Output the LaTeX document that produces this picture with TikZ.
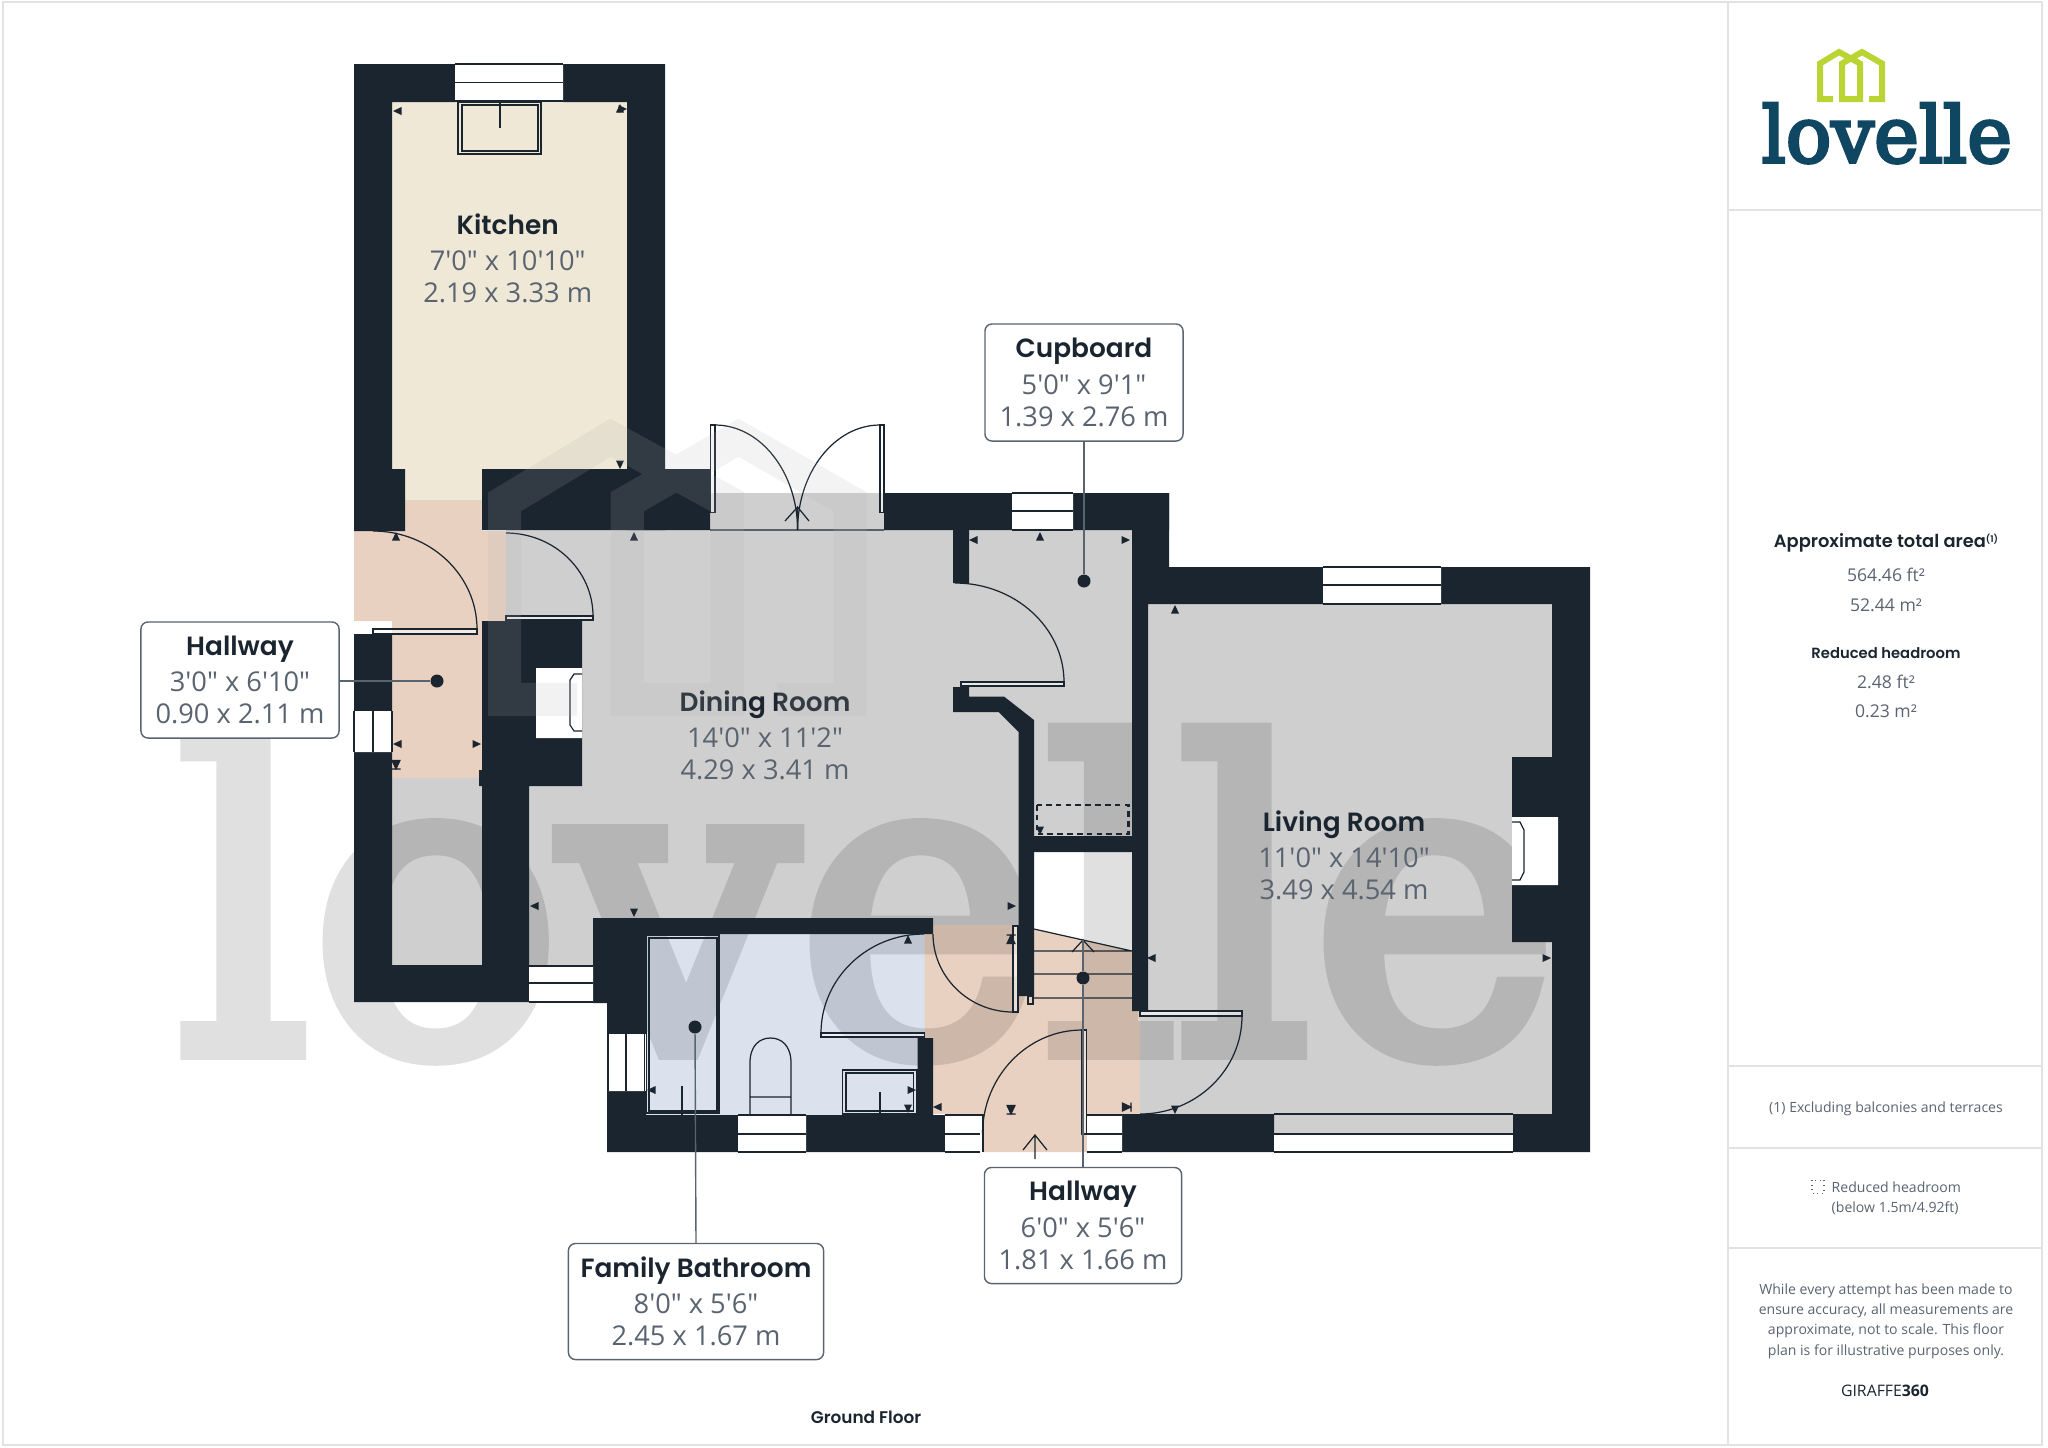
\documentclass[tikz,border=0pt]{standalone}
\usepackage{fontspec}
\usepackage{graphicx}
\setmainfont{Open Sans}
\newfontfamily\dimfont{Open Sans}
\newfontfamily\headfont{Poppins}[BoldFont={Poppins SemiBold}]
\newfontfamily\logofont{DejaVu Serif}[FakeBold=4]
\usetikzlibrary{calc}
\definecolor{wallc}{HTML}{1A2530}
\definecolor{inkc}{HTML}{5A6370}
\definecolor{peachc}{HTML}{E9D1C1}
\definecolor{beigec}{HTML}{EFE8D6}
\definecolor{greyc}{HTML}{CFCFCF}
\definecolor{bathc}{HTML}{DBE2EE}
\definecolor{framec}{HTML}{E2E2E2}
\definecolor{logoc}{HTML}{0F4661}
\definecolor{leafc}{HTML}{B9D433}
\tikzset{
  wall/.style={fill=wallc},
  thin line/.style={draw=wallc,line width=.35pt},
  win/.style={fill=white},
  leaf/.style={draw=wallc,line width=.35pt,fill=white,fill opacity=.55},
  dot/.style={circle,fill=wallc,inner sep=0pt,minimum size=.13cm},
  roomlabel/.style={align=center,text=inkc,font=\dimfont\fontsize{7.75}{9.1}\selectfont},
  roombox/.style={roomlabel,draw=inkc,line width=.4pt,fill=white,rounded corners=2pt,inner sep=0pt},
  sidetext/.style={align=center,text=inkc,font=\dimfont\fontsize{4}{5.8}\selectfont},
  sidenum/.style={align=center,text=inkc,font=\dimfont\fontsize{5}{6}\selectfont},
  sidehead/.style={align=center,text=wallc,font=\headfont\bfseries\fontsize{4.2}{6}\selectfont},
}
\newcommand\roomtext[3]{{\headfont\bfseries\color{wallc}\fontsize{7.5}{9.1}\selectfont #1}\\[1.2pt]#2\\#3}
\newcommand\mk[3]{\fill[wallc,shift={(#1,#2)},rotate=#3] (5,0) -- (-3.5,4) -- (-3.5,-4) -- cycle;}
\newcommand\mkb[3]{\filldraw[wallc,line width=.3pt,shift={(#1,#2)},rotate=#3] (5,0) -- (-3.5,4) -- (-3.5,-4) -- cycle (5,4.5) -- (5,-4.5);}
\newcommand\swing[3]{\draw[thin line] (#1) .. controls ($(#1)!.55!(#3)$) and ($(#2)!.55!(#3)$) .. (#2);}
\newcommand\housepath{(16,50) -- (3,50) -- (3,14.5) -- (22,3) -- (43,14.5) -- (43,50) -- (25,50) -- (25,14.5) -- (45,3) -- (65,14.5) -- (65,50) -- (52,50)}
\begin{document}
\begin{tikzpicture}[x=.01cm,y=-.01cm]
\useasboundingbox (0,0) rectangle (2048,1447);
\draw[framec,line width=.55pt] (3,2) rectangle (2042,1445);
\draw[framec,line width=.55pt] (1728,2) -- (1728,1445);
\foreach \ly in {210,1066,1148,1248} \draw[framec,line width=.55pt] (1728,\ly) -- (2042,\ly);

\fill[beigec] (392,102) rectangle (627,469) (405,469) rectangle (482,500);
\fill[peachc] (405,500) rectangle (482,531) (354,531) rectangle (506,621) (392,621) rectangle (482,778);
\fill[greyc] (392,778) rectangle (482,965);
\fill[greyc] (506,530) rectangle (1034,925) (710,493) rectangle (884,530) (969,530) rectangle (1132,836) (529,786) rectangle (593,966);
\fill[bathc] (646,934) rectangle (924.5,1115);
\fill[peachc] (924.5,925) -- (1034,925) -- (1034,929) -- (1132,951) -- (1132,1011) -- (1140,1011) -- (1140,1114) -- (1087,1114) -- (1087,1152) -- (983,1152) -- (983,1114) -- (924.5,1114) -- cycle;
\fill[greyc] (1148,604) rectangle (1552,1114) (1140,1011) rectangle (1148,1114) (1274,1114) rectangle (1513,1134);

\begin{scope}[transparency group,opacity=.12]
\node[anchor=south west,inner sep=0pt,text=black] (wmword) at (176,1058) {\resizebox{13.8cm}{3.2cm}{\logofont lovelle}};
\end{scope}

\fill[wall] (354,64) rectangle (455,102) (563,64) rectangle (665,102) (354,102) rectangle (392,469) (627,102) rectangle (665,530);
\fill[wall] (354,469) rectangle (405,531) (482,469) rectangle (710,530) (884,493) rectangle (1012,530) (1073,493) rectangle (1169,530);
\fill[wall] (1132,493) rectangle (1169,604) (1132,604) rectangle (1148,1011) (1169,567) rectangle (1323,604) (1441,567) rectangle (1590,604);
\fill[wall] (1552,604) rectangle (1590,1152) (1513,1114) rectangle (1552,1152) (1122,1114) rectangle (1274,1152) (1512,757) rectangle (1552,942);
\fill[wall] (953,530) rectangle (969,583) (1034,836) rectangle (1132,852);
\fill[wall] (953,687) -- (969,687) -- (969,696.5) -- (1004,696.5) -- (1034,720) -- (1034,996) -- (1018.7,996) -- (1018.7,732) -- (998.6,712) -- (953,712) -- cycle;
\fill[wall] (354,634) rectangle (392,711) (354,752) rectangle (392,1002) (392,965) rectangle (529,1002) (482,621) rectangle (582,786) (482,786) rectangle (529,965) (479,770) rectangle (482,786);
\fill[wall] (593,918) rectangle (933,934) (593,934) rectangle (646,1003) (607,1003) rectangle (646,1034) (607,1091) rectangle (646,1115);
\fill[wall] (607,1115) rectangle (738,1152) (806,1115) rectangle (945,1152) (917.5,1038) rectangle (933,1115);

\fill[win] (536,668) rectangle (582,738) (1512,817) rectangle (1558,885);
\draw[thin line] (582,674) -- (574,674) -- (570,680) -- (570,725) -- (574,731) -- (582,731);
\draw[thin line] (1512,822) -- (1520,822) -- (1524,830) -- (1524,872) -- (1520,880) -- (1512,880);

\fill[win] (455,64) rectangle (563,101) (1012,493) rectangle (1073,530) (1323,567) rectangle (1441,604) (354,711) rectangle (392,752);
\fill[win] (529,966) rectangle (593,1002) (608,1034) rectangle (644.5,1091) (738,1115) rectangle (806,1152) (945,1115) rectangle (980,1152) (1087,1115) rectangle (1122,1152);
\draw[thin line] (455,64) -- (563,64) (455,82.5) -- (563,82.5) (455,101) -- (563,101);
\draw[thin line] (1012,493) -- (1073,493) (1012,511) -- (1073,511) (1012,530) -- (1073,530);
\draw[thin line] (1323,567) -- (1441,567) (1323,585) -- (1441,585) (1323,604) -- (1441,604);
\draw[thin line] (354,711) -- (354,752) (373,711) -- (373,752) (392,711) -- (392,752);
\draw[thin line] (529,966) -- (593,966) (529,983) -- (593,983) (529,1002) -- (593,1002);
\draw[thin line] (608,1034) -- (608,1091) (626,1034) -- (626,1091) (644.5,1034) -- (644.5,1091);
\draw[thin line] (738,1115) -- (806,1115) (738,1134) -- (806,1134) (738,1152) -- (806,1152);
\draw[thin line] (945,1115) -- (980,1115) (945,1134) -- (980,1134) (945,1152) -- (980,1152);
\draw[thin line] (1087,1115) -- (1122,1115) (1087,1134) -- (1122,1134) (1087,1152) -- (1122,1152);
\fill[white] (1274,1134) rectangle (1513,1152);
\draw[thin line] (1274,1114) -- (1513,1114) (1274,1134) -- (1513,1134) (1274,1152) -- (1513,1152);

\draw[thin line] (458,102) rectangle (541,154) (462,105) rectangle (538,151);
\draw[thin line] (500,102) -- (500,127.5);
\draw[thin line] (710,530) -- (884,530) (797.6,507) -- (797.6,530) (785,521) -- (797.6,507) -- (809,521);
\draw[leaf] (710.5,425) rectangle (715,512.5) (880,425) rectangle (884,512.5);
\swing{715,425}{797.6,530}{797.6,425}
\swing{880,425}{797.6,530}{797.6,425}
\draw[leaf] (373,629) rectangle (477,634) (506,616) rectangle (593,620) (961,682) rectangle (1064,686) (821,1033) rectangle (924.5,1037);
\draw[leaf] (1013,926) rectangle (1018,1012) (1140,1011) rectangle (1242,1016) (1082,1030) rectangle (1086.5,1134);
\swing{373,531}{477,629}{477,531}
\swing{506,533}{593,616}{593,533}
\swing{955,583}{1064,682}{1064,583}
\swing{924,934}{821,1033}{821,934}
\swing{933,934}{1013,1012}{933,1012}
\swing{1082,1030}{982.5,1134}{982.5,1030}
\swing{1242,1016}{1140,1114}{1242,1114}
\draw[thin line] (980,1115) -- (983,1115) -- (983,1152);
\draw[thin line] (1028,996) rectangle (1033,1004);

\draw[thin line] (646.5,935) rectangle (719,1113) (649,938) rectangle (717,1111);
\draw[thin line] (682,1086) -- (682,1115);
\draw[thin line] (750,1115) -- (750,1063) .. controls (750,1045) and (760,1038) .. (770.5,1038) .. controls (781,1038) and (791,1045) .. (791,1063) -- (791,1115) (750,1097) -- (791,1097);
\draw[thin line] (842.5,1070) rectangle (917,1114) (846,1073) rectangle (913.5,1111);
\draw[thin line] (880,1092) -- (880,1115);

\draw[thin line] (1034,929) -- (1132,951) (1034,951) -- (1132,951) (1034,974) -- (1132,974) (1034,998) -- (1132,998);
\draw[thin line] (1072,952) -- (1083,940) -- (1094,952);
\draw[thin line] (1023,1150) -- (1035,1135) -- (1047,1150) (1035,1135) -- (1035,1159);
\draw[thin line,line width=.65pt,dash pattern=on 1.6pt off 1.2pt] (1037,805) rectangle (1128.5,834);

\mk{398}{111}{180}
\mk{620}{109}{90}
\mk{622}{109}{0}
\mk{620}{464}{270}
\mk{396}{537}{90}
\mk{634}{537}{90}
\mk{974}{540}{180}
\mk{1040}{537}{90}
\mk{1125}{540}{0}
\mk{1175}{610}{90}
\mk{938}{1107}{180}
\mk{1011}{906}{0}
\mkb{1011}{940}{90}
\mk{1152}{958}{180}
\mk{1546}{958}{0}
\mkb{1011}{1109}{270}
\mkb{1126}{1107}{0}
\mk{1175}{1109}{270}
\mk{1040}{830}{270}
\mk{398}{744}{180}
\mk{476}{744}{0}
\mkb{396}{764}{270}
\mk{535}{906}{180}
\mk{634}{912}{270}
\mk{908}{940}{90}
\mk{652}{1090}{180}
\mk{911}{1090}{0}
\mk{908}{1108}{270}

\node[dot] (dotcup) at (1084,581) {};
\node[dot] (dothalla) at (437,681) {};
\node[dot] (dotbath) at (695,1027) {};
\node[dot] (dothallb) at (1083,978) {};
\node[roombox,minimum width=1.98cm,minimum height=1.17cm] (boxcup) at (1084,382.5) {\roomtext{Cupboard}{5'0" x 9'1"}{1.39 x 2.76 m}};
\node[roombox,minimum width=1.98cm,minimum height=1.16cm] (boxhalla) at (240,680) {\roomtext{Hallway}{3'0" x 6'10"}{0.90 x 2.11 m}};
\node[roombox,minimum width=2.55cm,minimum height=1.16cm] (boxbath) at (696,1301.5) {\roomtext{Family Bathroom}{8'0" x 5'6"}{2.45 x 1.67 m}};
\node[roombox,minimum width=1.97cm,minimum height=1.16cm] (boxhallb) at (1083,1225.5) {\roomtext{Hallway}{6'0" x 5'6"}{1.81 x 1.66 m}};
\draw[inkc,line width=.4pt] (boxcup.south) -- (dotcup);
\draw[inkc,line width=.4pt] (boxhalla.east |- dothalla) -- (dothalla);
\draw[inkc,line width=.4pt] (boxbath.north) -- (dotbath);
\draw[inkc,line width=.4pt] (boxhallb.north) -- (dothallb) -- (1083,940);

\node[roomlabel] (kitlabel) at (507.7,258) {\roomtext{Kitchen}{7'0" x 10'10"}{2.19 x 3.33 m}};
\node[roomlabel] (dinlabel) at (765,735) {\roomtext{Dining Room}{14'0" x 11'2"}{4.29 x 3.41 m}};
\node[roomlabel] (livlabel) at (1344,855.5) {\roomtext{Living Room}{11'0" x 14'10"}{3.49 x 4.54 m}};
\node[text=wallc,font=\headfont\bfseries\fontsize{4.8}{6}\selectfont] (floorlabel) at (866,1417) {Ground Floor};

\begin{scope}[shift={(488,421)},scale=5.57]
\draw[gray!60,line width=9.4pt,opacity=.16,miter limit=3] \housepath;
\end{scope}

\begin{scope}[shift={(1817,49)}]
\draw[leafc,line width=1.7pt] \housepath;
\end{scope}
\node[anchor=south west,inner sep=0pt,text=logoc] (logoword) at (1761,164) {\resizebox{2.5cm}{.59cm}{\logofont lovelle}};

\node[sidehead,font=\headfont\bfseries\fontsize{5.07}{6}\selectfont] (areatitle) at (1886,543) {Approximate total area\raisebox{1.6pt}{\fontsize{2.6}{3}\selectfont(1)}};
\node[sidenum] (areaft) at (1886,575) {564.46 ft²};
\node[sidenum] (aream) at (1886,605) {52.44 m²};
\node[sidehead] (redtitle) at (1886,653) {Reduced headroom};
\node[sidenum] (redft) at (1886,682) {2.48 ft²};
\node[sidenum] (redm) at (1886,711) {0.23 m²};
\node[sidetext] (excl) at (1886,1108.5) {(1) Excluding balconies and terraces};
\draw[inkc,line width=.3pt,densely dotted] (1812,1180) rectangle (1824,1193);
\node[sidetext,align=left,anchor=west,inner sep=0pt] (redkey) at (1831,1198) {Reduced headroom\\(below 1.5m/4.92ft)};
\node[sidetext] (disclaimer) at (1886,1321) {While every attempt has been made to\\ensure accuracy, all measurements are\\approximate, not to scale. This floor\\plan is for illustrative purposes only.};
\node[sidetext,text=wallc,font=\dimfont\fontsize{4.5}{5.8}\selectfont] (giraffe) at (1885,1391) {GIRAFFE\textbf{360}};
\end{tikzpicture}
\end{document}
